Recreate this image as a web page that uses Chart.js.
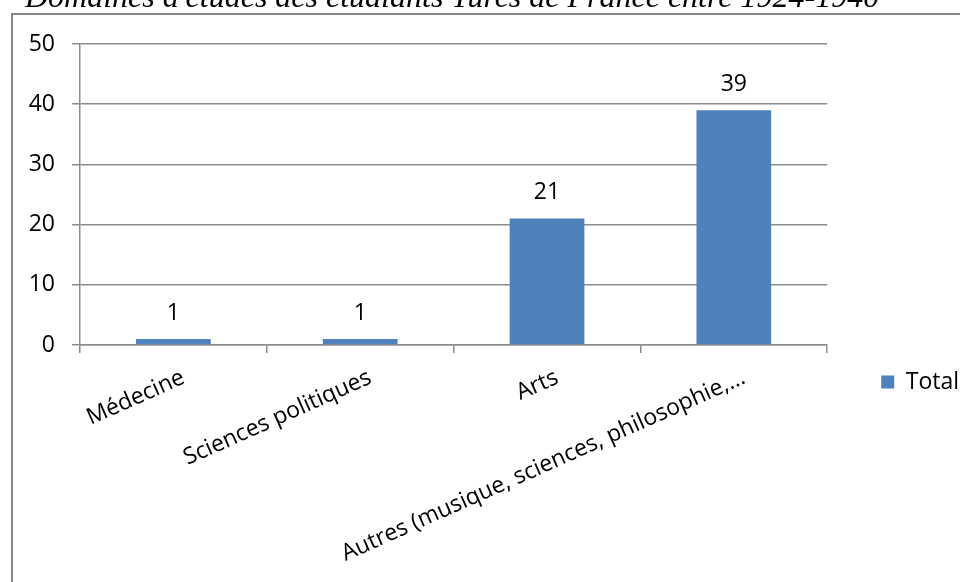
<!DOCTYPE html>
<html lang="fr">
<head>
<meta charset="utf-8">
<script src="https://cdn.jsdelivr.net/npm/chart.js@4.4.1/dist/chart.umd.min.js"></script>
<style>
  html, body { margin: 0; padding: 0; background: #fff; overflow: hidden; }
  #wrap { position: relative; width: 960px; height: 582px; overflow: hidden; }
  #box { position: absolute; left: 0; top: 0; width: 960px; height: 720px; }
  #titre {
    position: absolute; left: 25px; top: -20px; z-index: 2;
    font: italic 32px/32px "Liberation Serif", serif;
    white-space: nowrap; color: #000;
  }
</style>
</head>
<body>
<div id="wrap">
  <div id="box"><canvas id="domainesChart" width="960" height="720"></canvas></div>
  <div id="titre">Domaines d'études des étudiants Turcs de France entre 1924-1940</div>
</div>
<script>
const domaines = [
  'Médecine',
  'Sciences politiques',
  'Arts',
  'Autres (musique, sciences, philosophie,\u2026'
];
const effectifs = [1, 1, 21, 39];
const serie = 'Total';

const gris = '#8c8c8c';
const police = { family: 'Open Sans', size: 23 };

// cadre gris autour du graphique
const cadre = {
  id: 'cadre',
  beforeDraw(chart) {
    const ctx = chart.ctx;
    ctx.save();
    ctx.fillStyle = '#fff';
    ctx.fillRect(0, 0, chart.width, chart.height);
    ctx.strokeStyle = '#878787';
    ctx.lineWidth = 2;
    ctx.strokeRect(12, 14, chart.width + 20, chart.height + 20);
    ctx.restore();
  }
};

// étiquettes de valeur au-dessus des barres
const valeurs = {
  id: 'valeurs',
  afterDatasetsDraw(chart) {
    const ctx = chart.ctx;
    const meta = chart.getDatasetMeta(0);
    ctx.save();
    ctx.font = '23px "Open Sans"';
    ctx.fillStyle = '#000';
    ctx.textAlign = 'center';
    ctx.textBaseline = 'middle';
    meta.data.forEach((bar, i) => {
      ctx.fillText(effectifs[i], bar.x, bar.y - 26);
    });
    ctx.restore();
  }
};

const ctx = document.getElementById('domainesChart').getContext('2d');
new Chart(ctx, {
  type: 'bar',
  data: {
    labels: domaines,
    datasets: [{
      label: serie,
      data: effectifs,
      backgroundColor: '#4f81bd',
      borderWidth: 0,
      barPercentage: 0.4,
      categoryPercentage: 1
    }]
  },
  options: {
    responsive: false,
    animation: false,
    devicePixelRatio: 1,
    layout: { padding: { top: 44, right: -9, bottom: 0, left: 0 } },
    plugins: {
      tooltip: { enabled: false },
      legend: {
        position: 'right',
        labels: { boxWidth: 13, boxHeight: 13, padding: 54, color: '#000', font: police }
      }
    },
    scales: {
      x: {
        grid: { drawOnChartArea: false, drawTicks: true, tickLength: 8, color: gris, lineWidth: 1.5 },
        border: { color: gris, width: 1.5 },
        ticks: {
          color: '#000', font: police, minRotation: 24, maxRotation: 24,
          autoSkip: false, padding: 11, labelOffset: 10
        },
        afterFit(scale) { scale.height = 375; }
      },
      y: {
        min: 0,
        max: 50,
        ticks: { stepSize: 10, padding: 17, color: '#000', font: police },
        grid: { color: gris, lineWidth: 1.5, tickLength: 8 },
        border: { color: gris, width: 1.5 },
        afterFit(scale) { scale.width = 80; }
      }
    }
  },
  plugins: [cadre, valeurs]
});
</script>
</body>
</html>
